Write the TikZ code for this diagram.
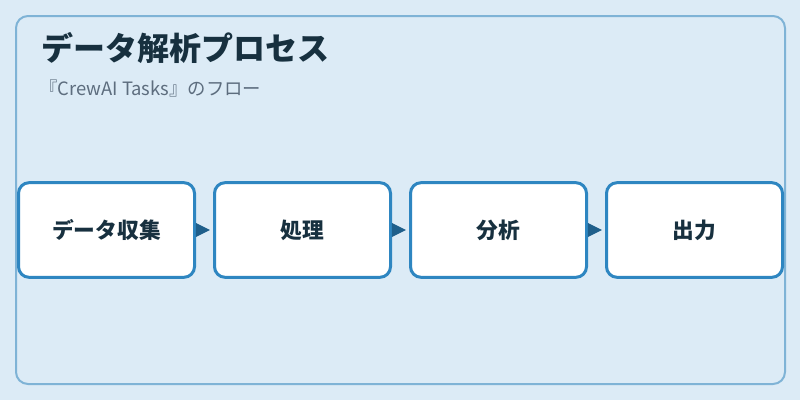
\documentclass[tikz,border=0pt]{standalone}
\usepackage{fontspec}
\usepackage{xcolor}
\usepackage{tikz}
\usetikzlibrary{positioning,arrows.meta}
\setmainfont{Noto Sans CJK JP}
\definecolor{bg}{HTML}{DCEBF6}
\definecolor{frame}{HTML}{7FB3D6}
\definecolor{boxline}{HTML}{2E86C1}
\definecolor{arrow}{HTML}{1F5F8B}
\definecolor{ink}{HTML}{17303F}
\definecolor{muted}{HTML}{5D6D7E}
\tikzset{
  panel/.style={draw=frame, line width=1.5pt, rounded corners=9pt},
  stepbox/.style={draw=boxline, fill=white, line width=2.25pt, rounded corners=8pt,
    minimum width=132pt, minimum height=71pt, text=ink, font=\bfseries\fontsize{16.3pt}{19pt}\selectfont},
  flow/.style={draw=arrow, line width=0.3pt, -{Triangle[length=10.5pt, width=10.5pt]}, shorten >=2.4pt},
  title/.style={text=ink, font=\bfseries\fontsize{24pt}{28pt}\selectfont, inner sep=0pt, anchor=west},
  subtitle/.style={text=muted, font=\fontsize{13.8pt}{16pt}\selectfont, inner sep=0pt, anchor=west}
}
\begin{document}
\begin{tikzpicture}[x=0.75pt, y=-0.75pt]
  \fill[bg] (0,0) rectangle (800,400);
  \useasboundingbox (0,0) rectangle (800,400);
  \draw[panel] (16,16) rectangle (785,384);

  \node[title] (head) at (41,48) {データ解析プロセス};
  \node[subtitle] (sub) at (39,89) {『CrewAI Tasks』のフロー};

  % the four steps
  \node[stepbox] (collect) at (106.5,230) {データ収集};
  \node[stepbox, right=12.75pt of collect] (process) {処理};
  \node[stepbox, right=12.75pt of process] (analyse) {分析};
  \node[stepbox, right=12.75pt of analyse] (output) {出力};

  \draw[flow] (collect) -- (process);
  \draw[flow] (process) -- (analyse);
  \draw[flow] (analyse) -- (output);
\end{tikzpicture}
\end{document}
